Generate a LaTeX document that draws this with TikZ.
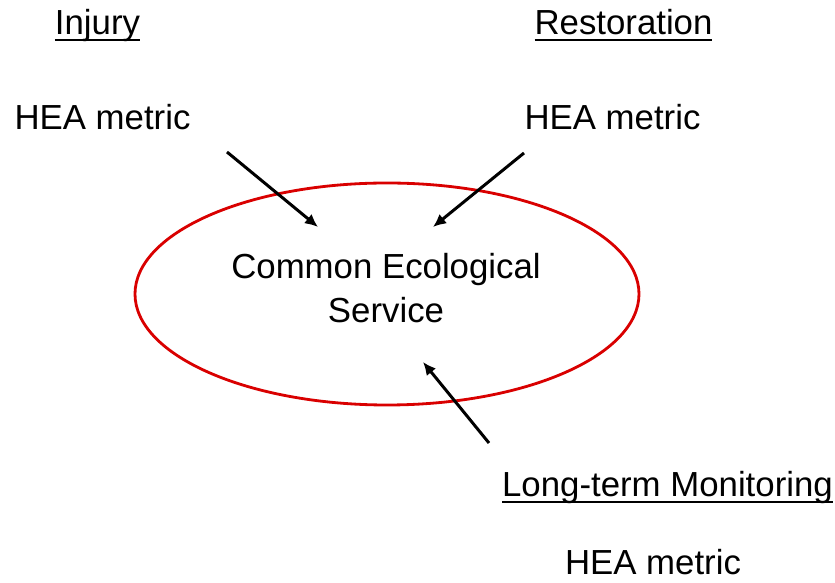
\documentclass[tikz,border=0pt]{standalone}
\usepackage{fontspec}
\setmainfont{Liberation Sans}
\usetikzlibrary{arrows.meta,shapes.geometric}
\newcommand\uln[1]{\setbox0\hbox{#1}\rlap{\rule[-3.2pt]{\wd0}{1.1pt}}\box0}

\begin{document}
\begin{tikzpicture}[font=\fontsize{19.8}{25}\selectfont,>={Latex[length=2.6mm,width=2.4mm]},
lbl/.style={anchor=base,inner sep=0pt},
arr/.style={line width=1.7pt,->},
ring/.style={draw=red!85!black,line width=1.6pt,ellipse,minimum width=10.08cm,minimum height=4.44cm,inner sep=0pt}]
\useasboundingbox (0,0) rectangle (16.7,11.66);
\node[ring] (svc) at (7.74,5.78) {};
\node[align=center] (cesvc) at (7.72,5.9) {Common Ecological\\Service};
\node[lbl] (injury) at (1.95,10.96) {\uln{Injury}};
\node[lbl] (restore) at (12.47,10.96) {\uln{Restoration}};
\node[lbl] (heainj) at (2.05,9.06) {HEA metric};
\node[lbl] (heares) at (12.25,9.06) {HEA metric};
\node[lbl] (monit) at (13.35,1.72) {\uln{Long-term Monitoring}};
\node[lbl] (heamon) at (13.06,0.16) {HEA metric};
\coordinate (injfrom) at (4.54,8.62);
\coordinate (injto) at (6.36,7.12);
\coordinate (resfrom) at (10.48,8.60);
\coordinate (resto) at (8.66,7.12);
\coordinate (monfrom) at (9.78,2.80);
\coordinate (monto) at (8.46,4.42);
\draw[arr] (injfrom)--(injto);
\draw[arr] (resfrom)--(resto);
\draw[arr] (monfrom)--(monto);
\end{tikzpicture}
\end{document}
